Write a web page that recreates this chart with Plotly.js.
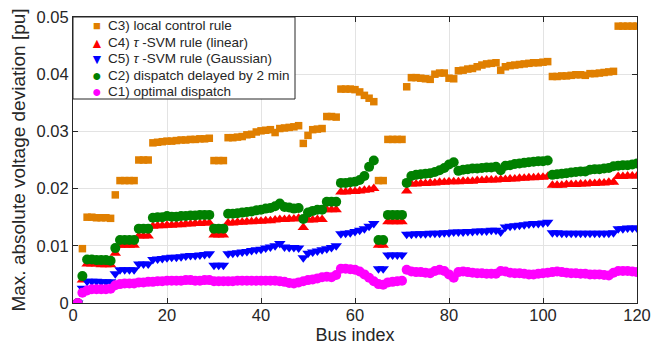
<!DOCTYPE html>
<html>
<head>
<meta charset="utf-8">
<script src="https://cdn.plot.ly/plotly-3.0.1.min.js"></script>
<style>html,body{margin:0;padding:0;background:#fff;}#chart{width:652px;height:345px;}</style>
</head>
<body>
<div id="chart"></div>
<script>
const bus = [1,2,3,4,5,6,7,8,9,10,11,12,13,14,15,16,17,18,19,20,21,22,23,24,25,26,27,28,29,30,
31,32,33,34,35,36,37,38,39,40,41,42,43,44,45,46,47,48,49,50,51,52,53,54,55,56,57,58,59,60,
61,62,63,64,65,66,67,68,69,70,71,72,73,74,75,76,77,78,79,80,81,82,83,84,85,86,87,88,89,90,
91,92,93,94,95,96,97,98,99,100,101,102,103,104,105,106,107,108,109,110,111,112,113,114,115,116,117,118,119,120];

const c3Local = [0,0.0095,0.0150,0.0150,0.0149,0.0149,0.0149,0.0148,0.0189,0.0214,
0.0214,0.0214,0.0214,0.0250,0.0250,0.0250,0.0280,0.0281,0.0282,0.0283,
0.0283,0.0284,0.0285,0.0285,0.0286,0.0286,0.0287,0.0287,0.0288,0.0249,
0.0249,0.0249,0.0289,0.0289,0.0290,0.0291,0.0294,0.0295,0.0299,0.0301,
0.0302,0.0303,0.0298,0.0305,0.0306,0.0307,0.0308,0.0310,0.0279,0.0293,
0.0303,0.0304,0.0305,0.0326,0.0326,0.0325,0.0374,0.0374,0.0374,0.0373,
0.0369,0.0363,0.0358,0.0352,0.0214,0.0214,0.0286,0.0286,0.0286,0.0286,
0.0378,0.0394,0.0394,0.0393,0.0392,0.0391,0.0400,0.0402,0.0402,0.0393,
0.0392,0.0406,0.0407,0.0409,0.0410,0.0413,0.0416,0.0418,0.0419,0.0420,
0.0407,0.0413,0.0415,0.0416,0.0417,0.0418,0.0419,0.0420,0.0420,0.0421,
0.0422,0.0396,0.0396,0.0397,0.0397,0.0398,0.0399,0.0399,0.0398,0.0401,
0.0401,0.0402,0.0403,0.0404,0.0405,0.0484,0.0484,0.0484,0.0484,0.0484];

const c4Linear = [0,0.0040,0.0068,0.0068,0.0068,0.0067,0.0067,0.0067,0.0087,0.0101,
0.0101,0.0101,0.0101,0.0117,0.0117,0.0117,0.0134,0.0135,0.0135,0.0136,
0.0136,0.0137,0.0137,0.0138,0.0138,0.0139,0.0139,0.0140,0.0140,0.0119,
0.0119,0.0119,0.0140,0.0140,0.0141,0.0141,0.0142,0.0142,0.0143,0.0143,
0.0144,0.0144,0.0145,0.0146,0.0146,0.0147,0.0147,0.0148,0.0132,0.0145,
0.0145,0.0146,0.0146,0.0163,0.0163,0.0163,0.0194,0.0194,0.0195,0.0195,
0.0196,0.0197,0.0198,0.0200,0.0101,0.0101,0.0142,0.0142,0.0142,0.0142,
0.0196,0.0208,0.0208,0.0209,0.0209,0.0210,0.0210,0.0211,0.0211,0.0212,
0.0212,0.0212,0.0213,0.0213,0.0213,0.0214,0.0214,0.0215,0.0215,0.0215,
0.0216,0.0216,0.0217,0.0217,0.0218,0.0218,0.0219,0.0219,0.0220,0.0220,
0.0221,0.0206,0.0206,0.0206,0.0207,0.0207,0.0207,0.0208,0.0208,0.0209,
0.0209,0.0210,0.0210,0.0211,0.0211,0.0221,0.0221,0.0222,0.0222,0.0222];

const c5Gaussian = [0,0.0026,0.0038,0.0038,0.0038,0.0037,0.0037,0.0037,0.0051,0.0058,
0.0058,0.0058,0.0058,0.0068,0.0068,0.0068,0.0076,0.0077,0.0078,0.0079,
0.0080,0.0080,0.0081,0.0082,0.0083,0.0083,0.0084,0.0085,0.0086,0.0066,
0.0066,0.0066,0.0086,0.0087,0.0088,0.0089,0.0090,0.0092,0.0093,0.0094,
0.0096,0.0098,0.0100,0.0104,0.0098,0.0097,0.0097,0.0096,0.0079,0.0087,
0.0089,0.0091,0.0093,0.0095,0.0097,0.0100,0.0121,0.0122,0.0123,0.0125,
0.0127,0.0130,0.0134,0.0139,0.0060,0.0060,0.0084,0.0084,0.0084,0.0084,
0.0120,0.0120,0.0121,0.0121,0.0121,0.0122,0.0122,0.0122,0.0123,0.0123,
0.0124,0.0124,0.0124,0.0125,0.0125,0.0126,0.0126,0.0126,0.0127,0.0127,
0.0124,0.0133,0.0134,0.0135,0.0136,0.0137,0.0138,0.0139,0.0139,0.0140,
0.0141,0.0123,0.0123,0.0122,0.0122,0.0122,0.0122,0.0122,0.0122,0.0122,
0.0122,0.0122,0.0122,0.0122,0.0123,0.0130,0.0130,0.0131,0.0131,0.0131];

const c2Delayed = [0,0.0047,0.0076,0.0076,0.0075,0.0075,0.0075,0.0074,0.0096,0.0110,
0.0110,0.0110,0.0110,0.0130,0.0130,0.0130,0.0149,0.0150,0.0150,0.0152,
0.0151,0.0151,0.0152,0.0152,0.0153,0.0153,0.0154,0.0154,0.0154,0.0130,
0.0130,0.0130,0.0156,0.0156,0.0157,0.0158,0.0159,0.0160,0.0162,0.0163,
0.0165,0.0166,0.0169,0.0174,0.0168,0.0167,0.0165,0.0166,0.0147,0.0158,
0.0161,0.0163,0.0163,0.0177,0.0177,0.0177,0.0210,0.0210,0.0211,0.0212,
0.0215,0.0222,0.0238,0.0249,0.0110,0.0110,0.0154,0.0154,0.0154,0.0154,
0.0210,0.0222,0.0224,0.0225,0.0226,0.0227,0.0229,0.0232,0.0236,0.0242,
0.0246,0.0231,0.0233,0.0234,0.0235,0.0235,0.0236,0.0237,0.0237,0.0238,
0.0232,0.0240,0.0241,0.0243,0.0244,0.0245,0.0246,0.0247,0.0248,0.0248,
0.0249,0.0224,0.0225,0.0226,0.0227,0.0228,0.0229,0.0230,0.0230,0.0233,
0.0234,0.0234,0.0235,0.0236,0.0239,0.0240,0.0241,0.0241,0.0242,0.0244];

const c1Optimal = [0,0.0018,0.0022,0.0024,0.0024,0.0024,0.0024,0.0025,0.0031,0.0033,
0.0034,0.0034,0.0034,0.0036,0.0036,0.0037,0.0037,0.0038,0.0038,0.0039,
0.0039,0.0039,0.0039,0.0040,0.0040,0.0039,0.0039,0.0040,0.0040,0.0038,
0.0038,0.0038,0.0038,0.0038,0.0039,0.0039,0.0039,0.0039,0.0039,0.0039,
0.0039,0.0039,0.0039,0.0038,0.0037,0.0035,0.0034,0.0036,0.0038,0.0040,
0.0041,0.0043,0.0045,0.0046,0.0045,0.0049,0.0060,0.0060,0.0059,0.0058,
0.0055,0.0050,0.0044,0.0038,0.0033,0.0032,0.0036,0.0037,0.0038,0.0039,
0.0058,0.0055,0.0054,0.0054,0.0053,0.0052,0.0056,0.0058,0.0056,0.0050,
0.0044,0.0054,0.0055,0.0054,0.0053,0.0052,0.0052,0.0051,0.0051,0.0051,
0.0056,0.0055,0.0053,0.0052,0.0052,0.0051,0.0050,0.0050,0.0051,0.0052,
0.0053,0.0054,0.0055,0.0054,0.0053,0.0052,0.0052,0.0051,0.0051,0.0050,
0.0050,0.0050,0.0049,0.0048,0.0053,0.0056,0.0056,0.0056,0.0055,0.0054];

const seriesNames = ['C3) local control rule', 'C4) <i>τ</i> -SVM rule (linear)', 'C5) <i>τ</i> -SVM rule (Gaussian)', 'C2) dispatch delayed by 2 min', 'C1) optimal dispatch'];
const seriesColors = ['#E07F00', '#FF0000', '#0000FF', '#008000', '#FF00FF'];
const legendGlyphs = ['■', '▲', '▼', '●', '●'];

const ink = '#262626';
const font = 'Liberation Sans, Arial, Helvetica, sans-serif';

const traces = [
  {x: bus, y: c3Local, name: seriesNames[0], mode: 'markers', type: 'scatter',
   marker: {symbol: 'square', size: 7.5, color: seriesColors[0]}},
  {x: bus, y: c4Linear, name: seriesNames[1], mode: 'markers', type: 'scatter',
   marker: {symbol: 'triangle-up', size: 10, color: seriesColors[1]}},
  {x: bus, y: c5Gaussian, name: seriesNames[2], mode: 'markers', type: 'scatter',
   marker: {symbol: 'triangle-down', size: 10, color: seriesColors[2]}},
  {x: bus, y: c2Delayed, name: seriesNames[3], mode: 'markers', type: 'scatter',
   marker: {symbol: 'circle', size: 10, color: seriesColors[3]}},
  {x: bus, y: c1Optimal, name: seriesNames[4], mode: 'markers', type: 'scatter',
   marker: {symbol: 'circle', size: 10, color: seriesColors[4]}}
];

// Legend drawn as a box with annotations (compact row spacing like the original)
const plotL = 73, plotR = 637, plotT = 17, plotB = 303;
const pw = plotR - plotL, ph = plotB - plotT;
const px2paper = p => (p - plotL) / pw;
const py2paper = p => 1 - (p - plotT) / ph;
const rowY = [26, 42.5, 58.8, 75.1, 91.4];
const glyphSize = [13, 14, 14, 16, 16];

const annotations = [];
for (let i = 0; i < seriesNames.length; i++) {
  annotations.push({xref: 'paper', yref: 'paper', x: px2paper(97), y: py2paper(rowY[i]),
    xanchor: 'center', yanchor: 'middle', showarrow: false, text: legendGlyphs[i],
    font: {family: font, size: glyphSize[i], color: seriesColors[i]}});
  annotations.push({xref: 'paper', yref: 'paper', x: px2paper(106), y: py2paper(rowY[i]),
    xanchor: 'left', yanchor: 'middle', showarrow: false, text: seriesNames[i],
    font: {family: font, size: 13.5, color: ink}});
}

const axisCommon = {
  showline: true, linecolor: ink, linewidth: 1, mirror: 'ticks',
  ticks: 'inside', ticklen: 5, tickcolor: ink, tickwidth: 1,
  showgrid: true, gridcolor: '#e3e3e3', gridwidth: 1, zeroline: false,
  tickfont: {family: font, size: 16.5, color: ink}
};

const layout = {
  width: 652, height: 345,
  margin: {l: 73, r: 15, t: 17, b: 42},
  paper_bgcolor: '#ffffff', plot_bgcolor: '#ffffff',
  font: {family: font, color: ink},
  showlegend: false,
  shapes: [{type: 'rect', xref: 'paper', yref: 'paper', x0: 0, x1: px2paper(295),
    y0: py2paper(99), y1: 1, fillcolor: '#ffffff', line: {color: ink, width: 1}, layer: 'above'}],
  annotations: annotations,
  xaxis: Object.assign({}, axisCommon, {
    range: [0, 120], dtick: 20, tick0: 0, ticklabelstandoff: -3,
    title: {text: 'Bus index', font: {family: font, size: 18, color: ink}}
  }),
  yaxis: Object.assign({}, axisCommon, {
    range: [0, 0.05], dtick: 0.01, tick0: 0,
    title: {text: 'Max. absolute voltage deviation [pu]', font: {family: font, size: 19, color: ink}}
  })
};

Plotly.newPlot('chart', traces, layout, {displayModeBar: false, staticPlot: true});
</script>
</body>
</html>
